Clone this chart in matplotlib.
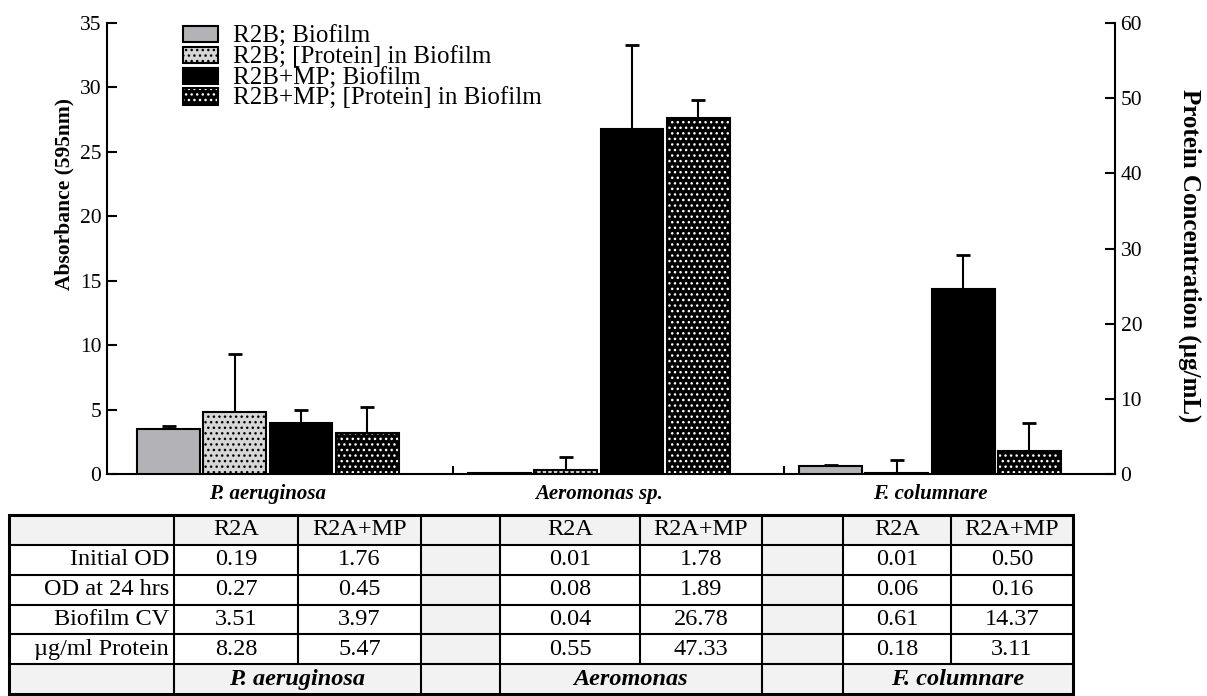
import numpy as np
import matplotlib
matplotlib.use("Agg")
import matplotlib.pyplot as plt
from matplotlib.patches import Rectangle, Patch
from matplotlib.legend_handler import HandlerTuple

plt.rcParams['font.family'] = ['Liberation Serif', 'DejaVu Serif']
plt.rcParams['hatch.linewidth'] = 1.0

# ---- data -------------------------------------------------------------
species = ["P. aeruginosa", "Aeromonas sp.", "F. columnare"]
species_table = ["P. aeruginosa", "Aeromonas", "F. columnare"]
series_labels = ["R2B; Biofilm", "R2B; [Protein] in Biofilm",
                 "R2B+MP; Biofilm", "R2B+MP; [Protein] in Biofilm"]

# crystal-violet biofilm absorbance (left axis)
biofilm_r2a = [3.51, 0.04, 0.61]
biofilm_r2a_err = [0.2, 0.05, 0.1]
biofilm_mp = [3.97, 26.78, 14.37]
biofilm_mp_err = [1.0, 6.5, 2.6]

# protein in biofilm, ug/mL (right axis)
protein_r2a = [8.28, 0.55, 0.18]
protein_r2a_err = [7.7, 1.7, 1.7]
protein_mp = [5.47, 47.33, 3.11]
protein_mp_err = [3.5, 2.4, 3.7]

# optical densities for the summary table
initial_od_r2a = [0.19, 0.01, 0.01]
initial_od_mp = [1.76, 1.78, 0.50]
od24_r2a = [0.27, 0.08, 0.06]
od24_mp = [0.45, 1.89, 0.16]

row_labels = ["Initial OD", "OD at 24 hrs", "Biofilm CV", "\u00b5g/ml Protein"]
media = ["R2A", "R2A+MP"]

absorbance_ticks = [0, 5, 10, 15, 20, 25, 30, 35]
protein_ticks = [0, 10, 20, 30, 40, 50, 60]

# ---- figure -----------------------------------------------------------
W, H = 1207, 696
fig = plt.figure(figsize=(W / 100, H / 100), dpi=100)
ax = fig.add_axes([107 / W, 1 - 474 / H, 1008 / W, 451 / H])
ax2 = ax.twinx()

x = np.arange(len(species))
bw = 0.19
LW = 1.5
light = '#b3b3b7'

# biofilm bars (left axis)
ax.bar(x - 0.3, biofilm_r2a, bw, color=light, edgecolor='black', lw=LW, zorder=3)
ax.errorbar(x - 0.3, biofilm_r2a, yerr=biofilm_r2a_err, fmt='none', ecolor='black',
            elinewidth=1.5, capsize=5, capthick=2, zorder=2)
ax.bar(x + 0.1, biofilm_mp, bw, color='black', edgecolor='black', lw=LW, zorder=3)
ax.errorbar(x + 0.1, biofilm_mp, yerr=biofilm_mp_err, fmt='none', ecolor='black',
            elinewidth=1.5, capsize=5, capthick=2, zorder=2)

# protein bars (right axis)
ax2.bar(x - 0.1, protein_r2a, bw, color='#d6d6d6', edgecolor='black', hatch='...',
        lw=LW, zorder=3)
ax2.errorbar(x - 0.1, protein_r2a, yerr=protein_r2a_err, fmt='none', ecolor='black',
             elinewidth=1.5, capsize=5, capthick=2, zorder=2)
ax2.bar(x + 0.3, protein_mp, bw, color='black', edgecolor='white', hatch='...',
        lw=0, zorder=3)
ax2.bar(x + 0.3, protein_mp, bw, fill=False, edgecolor='black', lw=LW, zorder=3.1)
ax2.errorbar(x + 0.3, protein_mp, yerr=protein_mp_err, fmt='none', ecolor='black',
             elinewidth=1.5, capsize=5, capthick=2, zorder=2)

# axes styling
ax.set_xlim(-0.486, 2.559)
ax.set_ylim(0, 35)
ax2.set_ylim(0, 60)
for a in (ax, ax2):
    a.spines['top'].set_visible(False)
    for s in a.spines.values():
        s.set_linewidth(LW)
ax.spines['right'].set_visible(False)
ax2.spines['left'].set_visible(False)
ax2.spines['bottom'].set_visible(False)

ax.set_xticks(x[:-1] + 0.56)
ax.tick_params(axis='x', which='major', direction='in', length=6, width=LW,
               labelbottom=False)
ax.set_xticks(x, minor=True)
ax.set_xticklabels(species, minor=True, fontweight='bold', fontstyle='italic',
                   fontsize=15)
ax.tick_params(axis='x', which='minor', length=0, pad=7)

ax.set_yticks(absorbance_ticks)
ax.tick_params(axis='y', direction='in', length=7, width=LW, labelsize=15.5, pad=4)
ax2.set_yticks(protein_ticks)
ax2.tick_params(axis='y', direction='in', length=7, width=LW, labelsize=15.5, pad=4)

ax.set_ylabel("Absorbance (595nm)", fontsize=15.5, fontweight='bold')
ax.yaxis.label.set(va='center', ha='center', rotation_mode='default')
ax.yaxis.set_label_coords(-0.042, 0.62)
ax2.set_ylabel("Protein Concentration (\u00b5g/mL)", fontsize=18, fontweight='bold')
ax2.yaxis.label.set(va='center', ha='center', rotation=270, rotation_mode='default')
ax2.yaxis.set_label_coords(1.074, 0.485)

# legend
handles = [
    Patch(facecolor=light, edgecolor='black', lw=LW),
    Patch(facecolor='#d6d6d6', edgecolor='black', hatch='...', lw=LW),
    Patch(facecolor='black', edgecolor='black', lw=LW),
    (Patch(facecolor='black', edgecolor='white', hatch='...', lw=0),
     Patch(fill=False, edgecolor='black', lw=LW)),
]
ax2.legend(handles, series_labels, loc='upper left',
           bbox_to_anchor=((183 - 107) / 1008, (474 - 26) / 451),
           frameon=False, fontsize=18, handlelength=1.4, handleheight=0.62,
           handletextpad=0.6, labelspacing=-0.05, borderpad=0, borderaxespad=0,
           handler_map={tuple: HandlerTuple(ndivide=1)})

# ---- summary table ----------------------------------------------------
tab = fig.add_axes([9 / W, 1 - 694 / H, 1064 / W, 179 / H])
col_widths = [165, 124, 123, 79, 140, 122, 81, 108, 122]
edges = np.concatenate([[0], np.cumsum(col_widths)])
n_rows = 6
tab.set_xlim(0, edges[-1])
tab.set_ylim(n_rows, 0)
tab.axis('off')

gray = '#f2f2f2'
pair_cols = [(1, 2), (4, 5), (7, 8)]
gap_cols = [3, 6]

for r in range(n_rows):
    for c in range(len(col_widths)):
        shaded = r in (0, n_rows - 1) or c in gap_cols
        tab.add_patch(Rectangle((edges[c], r), col_widths[c], 1,
                                facecolor=gray if shaded else 'white',
                                edgecolor='none'))

# horizontal rules
for r in range(1, n_rows):
    tab.plot([0, edges[-1]], [r, r], color='black', lw=1.5, solid_capstyle='butt')
# vertical rules (merged species cells in the last row)
for c in range(1, len(col_widths)):
    merged = any(c == b for a, b in pair_cols)
    y1 = n_rows - 1 if merged else n_rows
    tab.plot([edges[c], edges[c]], [0, y1], color='black', lw=1.5,
             solid_capstyle='butt')
tab.add_patch(Rectangle((0, 0), edges[-1], n_rows, fill=False, edgecolor='black',
                        lw=2.2, clip_on=False))

fs = 17.5
table_values = [
    (initial_od_r2a, initial_od_mp),
    (od24_r2a, od24_mp),
    (biofilm_r2a, biofilm_mp),
    (protein_r2a, protein_mp),
]
for i, (ca, cb) in enumerate(pair_cols):
    for c, m in zip((ca, cb), media):
        tab.text((edges[c] + edges[c + 1]) / 2, 0.5, m, ha='center', va='center',
                 fontsize=fs)
    for r, (va_, vb_) in enumerate(table_values, start=1):
        tab.text((edges[ca] + edges[ca + 1]) / 2, r + 0.5, f"{va_[i]:.2f}",
                 ha='center', va='center', fontsize=fs)
        tab.text((edges[cb] + edges[cb + 1]) / 2, r + 0.5, f"{vb_[i]:.2f}",
                 ha='center', va='center', fontsize=fs)
    tab.text((edges[ca] + edges[cb + 1]) / 2, n_rows - 0.5, species_table[i],
             ha='center', va='center', fontsize=fs, fontweight='bold',
             fontstyle='italic')
for r, lab in enumerate(row_labels, start=1):
    tab.text(edges[1] - 5, r + 0.5, lab, ha='right', va='center', fontsize=fs)

fig.savefig("out.png", dpi=100)
